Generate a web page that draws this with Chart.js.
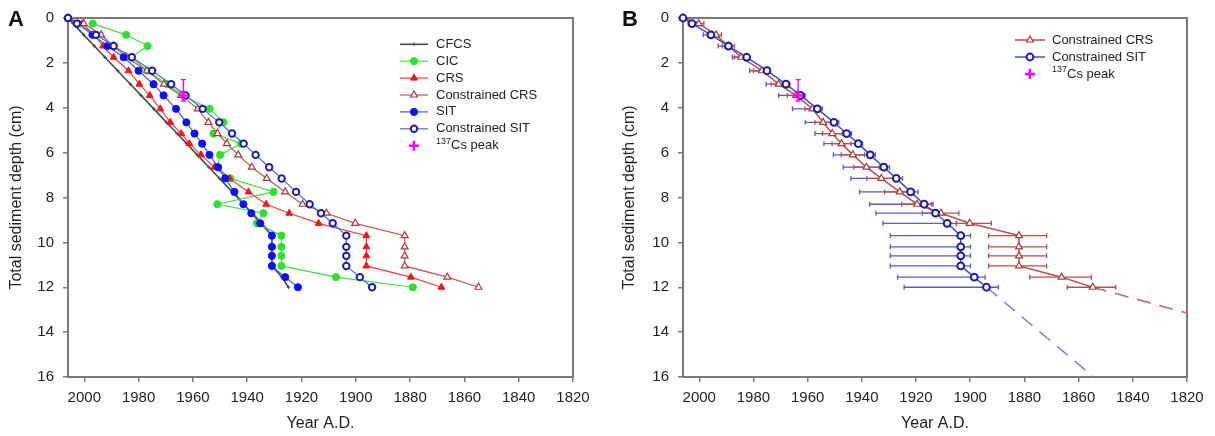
<!DOCTYPE html>
<html><head><meta charset="utf-8">
<script src="https://cdn.jsdelivr.net/npm/chart.js@4.4.1/dist/chart.umd.min.js"></script>
<style>html,body{margin:0;padding:0;background:#fff}#wrap{position:relative;width:1215px;height:436px}canvas{position:absolute;top:0}</style>
</head><body><div id="wrap"><canvas id="ca" width="607" height="436" style="left:0"></canvas><canvas id="cb" width="608" height="436" style="left:607px"></canvas></div>
<script>
// ---- data ----
const depths = [0,0.25,0.75,1.25,1.75,2.35,2.95,3.45,4.05,4.65,5.15,5.6,6.1,6.65,7.15,7.75,8.3,8.7,9.15,9.7,10.2,10.6,11.05,11.55,12];
const yearTicks = [2000,1980,1960,1940,1920,1900,1880,1860,1840,1820];
const depthTicks = [0,2,4,6,8,10,12,14,16];
const cfcsYears = [2006,2004.1,2000.2,1996.3,1992.4,1987.7,1983,1979.1,1974.4,1969.7,1965.8,1962.3,1958.4,1954.1,1950.2,1945.5,1941.3,1938.1,1934.6,1930.9,1930.9,1930.9,1930.9,1927.2,1924.8];
const cicYears = [null,1996.9,1984.6,1976.7,1982.7,1976.7,1969.5,1963.5,1953.8,1948.7,1952.4,1942.2,1950,1951,1946.2,1930.3,1951,1934,1936.4,1927.4,1927.4,1927.4,1927.4,1907.3,1879];
const crsYears = [2006,2000.8,1996.3,1993.1,1989.2,1983.7,1979.7,1975.9,1972,1968.3,1964.3,1961.3,1957,1952.1,1946.5,1939.5,1933,1924.5,1913.7,1896.1,1896.1,1896.1,1896.1,1879.7,1868.5];
const cCrsYears = [2006,2000.2,1993.8,1989.3,1984.5,1976.9,1970.7,1964.3,1958.2,1954.3,1950.9,1947.5,1943.3,1938.3,1932.8,1926,1919.6,1910.8,1900.2,1882,1882,1882,1882,1866.3,1854.8];
const sitYears = [2006,2002.5,1997,1991.5,1985.5,1980,1974.5,1970.8,1966.2,1962.4,1959.4,1956.6,1953.9,1950.7,1948.1,1944.7,1941.4,1938.5,1935.2,1930.9,1930.9,1930.9,1930.9,1926,1921.3];
const cSitYears = [2006,2002.7,1995.7,1989.2,1982.5,1975,1968,1962.7,1956.4,1950.3,1945.6,1941.3,1936.9,1931.9,1927.3,1922,1917,1912.8,1908.5,1903.5,1903.5,1903.5,1903.5,1898.5,1894];
// error bars (panel B): younger / older bounds
const cSitErrYoung = [null,2004,1998.5,1993,1987.8,1981.4,1975.3,1970.7,1965.6,1960.9,1957.3,1954,1950.5,1946.9,1944,1940.8,1937.1,1934.8,1932.2,1929.5,1929.5,1929.5,1929.5,1926.8,1924.4];
const cSitErrOld = [null,2002,1995,1988.2,1981.5,1974,1966.6,1961,1954.6,1948.5,1943.8,1939.7,1935,1929.8,1925,1919.2,1913.7,1910.6,1905.1,1899.9,1899.9,1899.9,1899.9,1894.5,1889.6];
const cCrsErrYoung = [null,2001,1996,1991.5,1987,1980,1973.5,1967.5,1961,1957.3,1954.5,1951,1947.6,1943,1938.1,1931.6,1925.3,1917.7,1905.1,1893.2,1893.2,1893.2,1893.2,1878,1864.2];
const cCrsErrOld = [null,1998.3,1991.8,1987,1982,1974,1968,1961,1955.5,1951.3,1947.3,1944,1939,1933.6,1927.5,1920.6,1914.3,1904.2,1892.2,1871.8,1871.8,1871.8,1871.8,1855.3,1846.3];
const csPeakYear = [1963.5];
const csPeakDepth = [3.45];
const csPeakDepthErr = [2.75, 3.7];
const sitExtYears = [1894, 1854.4];
const sitExtDepths = [12, 16];
const crsExtYears = [1854.8, 1820];
const crsExtDepths = [12, 13.15];

// ---- helpers ----
const FONT = '"Liberation Sans", Arial, Helvetica, sans-serif';
Chart.defaults.font.family = FONT;
Chart.defaults.color = '#222';
function pts(xs, ys){ const o=[]; for(let i=0;i<xs.length;i++){ if(xs[i]==null) continue; o.push({x:xs[i], y:ys[i]}); } return o; }

function ser(label, xs, ys, line, mark, style, fill, r, bw, lw){
  return {label, data: pts(xs, ys), showLine: true, borderColor: line, borderWidth: lw||1,
    pointStyle: style, pointRadius: r, pointHoverRadius: r, pointBackgroundColor: fill,
    pointBorderColor: mark, pointBorderWidth: bw, clip: false, tension: 0};
}

function scales(yTitlePad){
  return {
    x: {type:'linear', reverse:true, min:1820, max:2006,
      afterBuildTicks: s => { s.ticks = yearTicks.map(v=>({value:v})); },
      afterFit: s => { s.height = 59; },
      grid:{display:true, drawOnChartArea:false, drawTicks:true, tickLength:5, color:'#7a7a7a', lineWidth:1.5},
      border:{display:false},
      ticks:{font:{size:15}, color:'#222', padding:7, maxRotation:0, autoSkip:false, callback: v => String(v)},
      title:{display:true, text:'Year A.D.', font:{size:16}, color:'#222', padding:{top:0,bottom:3}}
    },
    y: {type:'linear', reverse:true, min:0, max:16,
      afterBuildTicks: s => { s.ticks = depthTicks.map(v=>({value:v})); },
      afterFit: s => { s.width = yTitlePad.w; },
      grid:{display:true, drawOnChartArea:false, drawTicks:true, tickLength:5, color:'#7a7a7a', lineWidth:1.5},
      border:{display:false},
      ticks:{font:{size:15}, color:'#222', padding:9, autoSkip:false, callback: v => String(v)},
      title:{display:true, text:'Total sediment depth (cm)', font:{size:16}, color:'#222', padding:{top:yTitlePad.p,bottom:0}}
    }
  };
}

function framePlugin(letter, lx){
  return {id:'frame',
    beforeDatasetsDraw(chart){ const {ctx, chartArea:a} = chart; ctx.save(); ctx.strokeStyle='#7a7a7a'; ctx.lineWidth=2; ctx.strokeRect(a.left, a.top, a.right-a.left, a.bottom-a.top); ctx.restore(); },
    afterDraw(chart){ const ctx=chart.ctx; ctx.save(); ctx.font='bold 22px '+FONT; ctx.fillStyle='#111'; ctx.textBaseline='alphabetic'; ctx.fillText(letter, lx, 26); ctx.restore(); }
  };
}

function errPlugin(sets, vsets){
  return {id:'errbars',
    beforeDatasetsDraw(chart){
      const xs=chart.scales.x, ys=chart.scales.y, ctx=chart.ctx; ctx.save();
      for(const s of sets){
        ctx.strokeStyle=s.color; ctx.lineWidth=1.3;
        for(let i=0;i<s.depths.length;i++){
          if(s.lo[i]==null) continue;
          const py=ys.getPixelForValue(s.depths[i]);
          const x1=xs.getPixelForValue(s.lo[i]), x2=xs.getPixelForValue(s.hi[i]);
          ctx.beginPath(); ctx.moveTo(x1,py); ctx.lineTo(x2,py);
          ctx.moveTo(x1,py-2.5); ctx.lineTo(x1,py+2.5); ctx.moveTo(x2,py-2.5); ctx.lineTo(x2,py+2.5); ctx.stroke();
        }
      }
      for(const v of vsets){
        ctx.strokeStyle=v.color; ctx.lineWidth=1.3;
        const px=xs.getPixelForValue(v.year), y1=ys.getPixelForValue(v.lo), y2=ys.getPixelForValue(v.hi);
        ctx.beginPath(); ctx.moveTo(px,y1); ctx.lineTo(px,y2);
        ctx.moveTo(px-2.5,y1); ctx.lineTo(px+2.5,y1); ctx.moveTo(px-2.5,y2); ctx.lineTo(px+2.5,y2); ctx.stroke();
      }
      ctx.restore();
    }
  };
}

function legendPlugin(items, x0, x1, tx, y0, dy){
  return {id:'lg',
    afterDraw(chart){
      const ctx=chart.ctx; ctx.save();
      items.forEach((it,i)=>{
        const y=y0+i*dy; const ds=chart.data.datasets[it.ds];
        if(!it.noLine){ ctx.strokeStyle=ds.borderColor; ctx.lineWidth=ds.borderWidth; ctx.setLineDash([]); ctx.beginPath(); ctx.moveTo(x0,y); ctx.lineTo(x1,y); ctx.stroke(); }
        ctx.fillStyle=ds.pointBackgroundColor; ctx.strokeStyle=ds.pointBorderColor; ctx.lineWidth=ds.pointBorderWidth;
        Chart.helpers.drawPoint(ctx, {pointStyle:ds.pointStyle, radius:ds.pointRadius, borderWidth:ds.pointBorderWidth, rotation:0}, (x0+x1)/2, y);
        ctx.fillStyle='#222'; ctx.textBaseline='middle';
        if(it.sup){
          ctx.font='9px '+FONT; ctx.fillText(it.sup, tx, y-4); const w=ctx.measureText(it.sup).width;
          ctx.font='13px '+FONT; ctx.fillText(it.text, tx+w, y);
        } else { ctx.font='13px '+FONT; ctx.fillText(it.text, tx, y); }
      });
      ctx.restore();
    }
  };
}

// ---- Panel A ----
const dsA = [
  ser('137Cs peak', csPeakYear, csPeakDepth, 'rgba(0,0,0,0)', '#ff00ff', 'cross', '#ff00ff', 5, 2.5, 0),
  ser('Constrained SIT', cSitYears, depths, '#4a68c8', '#1e1ea0', 'circle', '#ffffff', 3.2, 2, 1.2),
  ser('SIT', sitYears, depths, '#3f5fe0', '#0a14f0', 'circle', '#0a14f0', 3.6, 1, 1.2),
  ser('Constrained CRS', cCrsYears, depths, '#b85a52', '#a83c3c', 'triangle', '#ffffff', 4, 1.2, 1.2),
  ser('CRS', crsYears, depths, '#f04040', '#f01818', 'triangle', '#f01818', 4, 1, 1.2),
  ser('CIC', cicYears, depths, '#45dd45', '#2fe02f', 'circle', '#2fe02f', 3.6, 1, 1.2),
  ser('CFCS', cfcsYears, depths, '#4a4a4a', '#4a4a4a', 'cross', '#4a4a4a', 1.8, 1, 1.6)
];
dsA[0].showLine = false;
new Chart(document.getElementById('ca'), {
  type:'scatter',
  data:{datasets: dsA},
  options:{responsive:false, animation:false, devicePixelRatio:1,
    layout:{padding:{left:0, right:34, top:16, bottom:0}},
    plugins:{legend:{display:false}, tooltip:{enabled:false}},
    scales: scales({w:68, p:7})
  },
  plugins:[framePlugin('A', 8),
    errPlugin([], [{year: csPeakYear[0], lo: csPeakDepthErr[0], hi: csPeakDepthErr[1], color:'#ff00ff'}]),
    legendPlugin([
      {ds:6, text:'CFCS'},{ds:5, text:'CIC'},{ds:4, text:'CRS'},{ds:3, text:'Constrained CRS'},
      {ds:2, text:'SIT'},{ds:1, text:'Constrained SIT'},{ds:0, text:'Cs peak', sup:'137', noLine:true}
    ], 400, 428, 436, 44.3, 16.9)]
});

// ---- Panel B ----
const dsB = [
  ser('137Cs peak', csPeakYear, csPeakDepth, 'rgba(0,0,0,0)', '#ff00ff', 'cross', '#ff00ff', 5, 2.5, 0),
  ser('Constrained SIT', cSitYears, depths, '#4050c0', '#1e1ea8', 'circle', '#ffffff', 3.4, 2, 1.5),
  ser('Constrained CRS', cCrsYears, depths, '#b4504a', '#a0403a', 'triangle', '#ffffff', 4, 1.2, 1.5),
  {label:'SIT extrapolation', data: pts(sitExtYears, sitExtDepths), showLine:true, borderColor:'#7c84d8', borderWidth:1.6, borderDash:[14,9], pointRadius:0, clip:false},
  {label:'CRS extrapolation', data: pts(crsExtYears, crsExtDepths), showLine:true, borderColor:'#c46a62', borderWidth:1.6, borderDash:[14,9], pointRadius:0, clip:false}
];
dsB[0].showLine = false;
new Chart(document.getElementById('cb'), {
  type:'scatter',
  data:{datasets: dsB},
  options:{responsive:false, animation:false, devicePixelRatio:1,
    layout:{padding:{left:5, right:28, top:16, bottom:0}},
    plugins:{legend:{display:false}, tooltip:{enabled:false}},
    scales: scales({w:71, p:8})
  },
  plugins:[framePlugin('B', 15),
    errPlugin([
      {depths: depths, lo: cSitErrYoung, hi: cSitErrOld, color:'#5a5ccc'},
      {depths: depths, lo: cCrsErrYoung, hi: cCrsErrOld, color:'#b4524c'}
    ], [{year: csPeakYear[0], lo: csPeakDepthErr[0], hi: csPeakDepthErr[1], color:'#ff00ff'}]),
    legendPlugin([
      {ds:2, text:'Constrained CRS'},{ds:1, text:'Constrained SIT'},{ds:0, text:'Cs peak', sup:'137', noLine:true}
    ], 408, 438, 445, 40, 17)]
});
</script></body></html>
